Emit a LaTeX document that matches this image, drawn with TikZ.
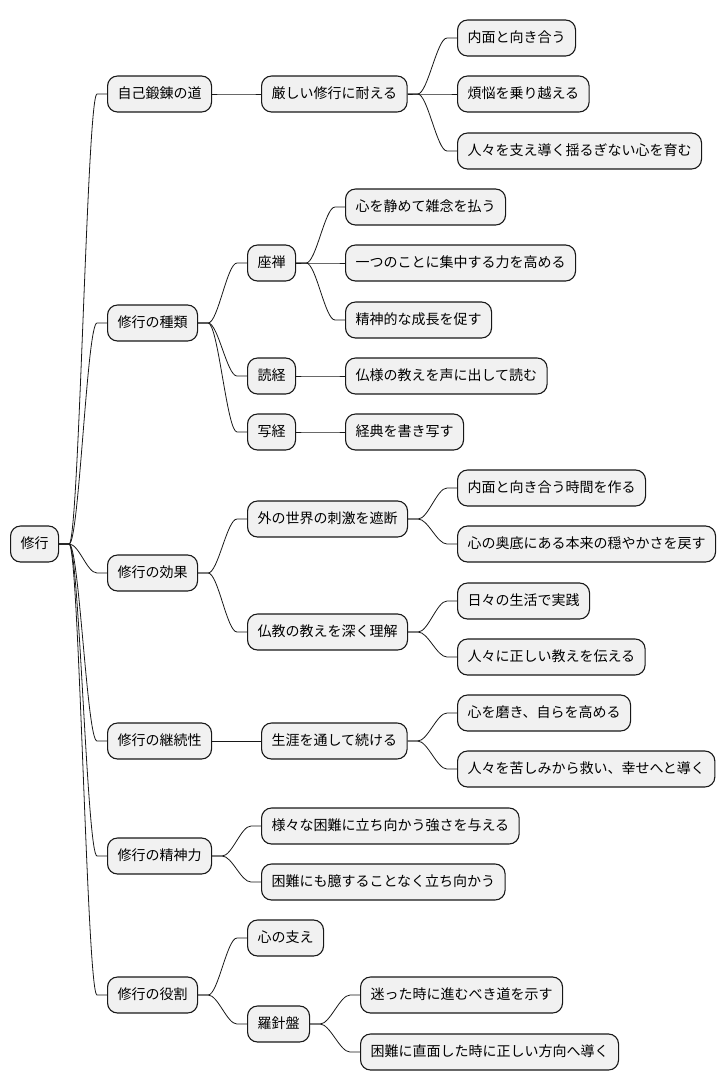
\documentclass[tikz,border=0pt]{standalone}
\usepackage{fontspec}
\newfontfamily\cjk{Noto Sans CJK JP}
\usetikzlibrary{calc}
\definecolor{linec}{HTML}{181818}
\definecolor{fillc}{HTML}{F1F1F1}
\tikzset{
  mm/.style={draw=linec, fill=fillc, line width=1.1pt, rounded corners=10pt,
    anchor=west, inner xsep=10pt, inner ysep=0pt, minimum height=36pt,
    text height=10.5pt, text depth=2.5pt,
    font=\cjk\fontsize{14pt}{16pt}\selectfont},
  conn/.style={draw=linec, line width=0.8pt}
}
\newcommand{\link}[2]{\draw[conn] (#1.east) -- ++(10pt,0) .. controls +(10pt,0) and +(-10pt,0) .. ($(#2.west)+(-10pt,0)$) -- (#2.west);}
\begin{document}
\begin{tikzpicture}[x=1pt,y=-1pt]
\useasboundingbox (0,0) rectangle (726,1090);
\node[mm] (r) at (10,544) {修行};
\node[mm] (a1) at (107,94) {自己鍛錬の道};
\node[mm] (a2) at (107,323) {修行の種類};
\node[mm] (a3) at (107,573) {修行の効果};
\node[mm] (a4) at (107,741) {修行の継続性};
\node[mm] (a5) at (107,856) {修行の精神力};
\node[mm] (a6) at (107,995) {修行の役割};
\node[mm] (b1) at (261,94) {厳しい修行に耐える};
\node[mm] (b2) at (247,263) {座禅};
\node[mm] (b3) at (247,376) {読経};
\node[mm] (b4) at (247,432) {写経};
\node[mm] (b5) at (247,519) {外の世界の刺激を遮断};
\node[mm] (b6) at (247,632) {仏教の教えを深く理解};
\node[mm] (b7) at (261,741) {生涯を通して続ける};
\node[mm] (b8) at (261,826) {様々な困難に立ち向かう強さを与える};
\node[mm] (b9) at (261,882) {困難にも臆することなく立ち向かう};
\node[mm] (b10) at (247,938) {心の支え};
\node[mm] (b11) at (247,1024) {羅針盤};
\node[mm] (c1) at (457,38) {内面と向き合う};
\node[mm] (c2) at (457,94) {煩悩を乗り越える};
\node[mm] (c3) at (457,151) {人々を支え導く揺るぎない心を育む};
\node[mm] (c4) at (345,207) {心を静めて雑念を払う};
\node[mm] (c5) at (345,263) {一つのことに集中する力を高める};
\node[mm] (c6) at (345,320) {精神的な成長を促す};
\node[mm] (c7) at (345,376) {仏様の教えを声に出して読む};
\node[mm] (c8) at (345,432) {経典を書き写す};
\node[mm] (c9) at (457,488) {内面と向き合う時間を作る};
\node[mm] (c10) at (457,544) {心の奥底にある本来の穏やかさを戻す};
\node[mm] (c11) at (457,601) {日々の生活で実践};
\node[mm] (c12) at (457,657) {人々に正しい教えを伝える};
\node[mm] (c13) at (457,713) {心を磨き、自らを高める};
\node[mm] (c14) at (457,769) {人々を苦しみから救い、幸せへと導く};
\node[mm] (c15) at (360,995) {迷った時に進むべき道を示す};
\node[mm] (c16) at (360,1052) {困難に直面した時に正しい方向へ導く};
\link{r}{a1}\link{r}{a2}\link{r}{a3}\link{r}{a4}\link{r}{a5}\link{r}{a6}
\link{a1}{b1}
\link{b1}{c1}\link{b1}{c2}\link{b1}{c3}
\link{a2}{b2}\link{a2}{b3}\link{a2}{b4}
\link{b2}{c4}\link{b2}{c5}\link{b2}{c6}
\link{b3}{c7}\link{b4}{c8}
\link{a3}{b5}\link{a3}{b6}
\link{b5}{c9}\link{b5}{c10}
\link{b6}{c11}\link{b6}{c12}
\link{a4}{b7}
\link{b7}{c13}\link{b7}{c14}
\link{a5}{b8}\link{a5}{b9}
\link{a6}{b10}\link{a6}{b11}
\link{b11}{c15}\link{b11}{c16}
\end{tikzpicture}
\end{document}
